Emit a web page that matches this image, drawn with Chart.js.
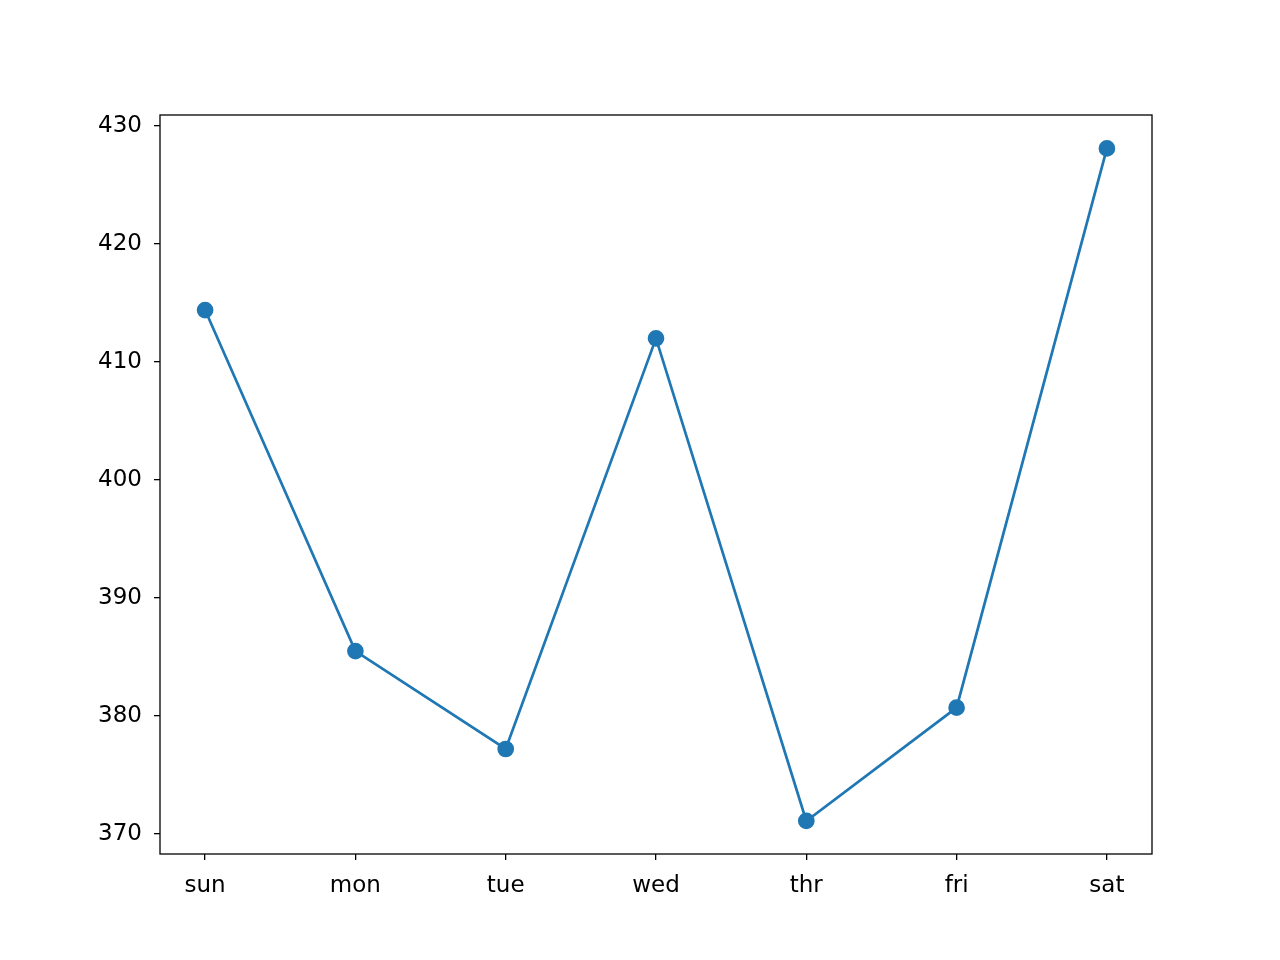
<!DOCTYPE html>
<html><head><meta charset="utf-8">
<script src="https://cdn.jsdelivr.net/npm/chart.js@4"></script>
<style>html,body{margin:0;padding:0;background:#fff}#c{display:block}</style>
</head><body>
<div style="width:1280px;height:960px"><canvas id="c" width="1280" height="960"></canvas></div>
<script>
const categories = ["sun","mon","tue","wed","thr","fri","sat"];
const values = [414.4, 385.5, 377.2, 412.0, 371.1, 380.7, 428.1];
const yTicks = [370, 380, 390, 400, 410, 420, 430];

const frame = {id:'frame', afterDraw(ch){const a=ch.chartArea,c=ch.ctx;c.save();c.strokeStyle='#000';c.lineWidth=1.3;c.strokeRect(a.left,a.top,a.right-a.left,a.bottom-a.top);c.restore();}};
new Chart(document.getElementById('c'), {
  type:'line',
  data:{datasets:[{data:values.map((v,i)=>({x:i,y:v})),borderColor:'#1f77b4',backgroundColor:'#1f77b4',borderWidth:2.7,pointRadius:7,pointHoverRadius:7,tension:0}]},
  options:{responsive:false,animation:false,devicePixelRatio:1,
    layout:{padding:{top:115,right:128,left:0,bottom:0}},
    plugins:{legend:{display:false},tooltip:{enabled:false}},
    scales:{
      x:{type:'linear',min:-0.3,max:6.3,afterFit(s){s.height=106;},
        afterBuildTicks(s){s.ticks=categories.map((_,i)=>({value:i}));},
        ticks:{callback:v=>categories[v],color:'#000',font:{family:'DejaVu Sans',size:23},padding:12,maxRotation:0},
        grid:{drawOnChartArea:false,tickLength:6,color:'#000',lineWidth:1.3},border:{display:false}},
      y:{min:368.3,max:430.93,afterFit(s){s.width=160;},
        afterBuildTicks(s){s.ticks=yTicks.map(v=>({value:v}));},
        ticks:{color:'#000',font:{family:'DejaVu Sans',size:23},padding:12},
        grid:{drawOnChartArea:false,tickLength:6,color:'#000',lineWidth:1.3},border:{display:false}}
    }},
  plugins:[frame]
});
</script></body></html>
